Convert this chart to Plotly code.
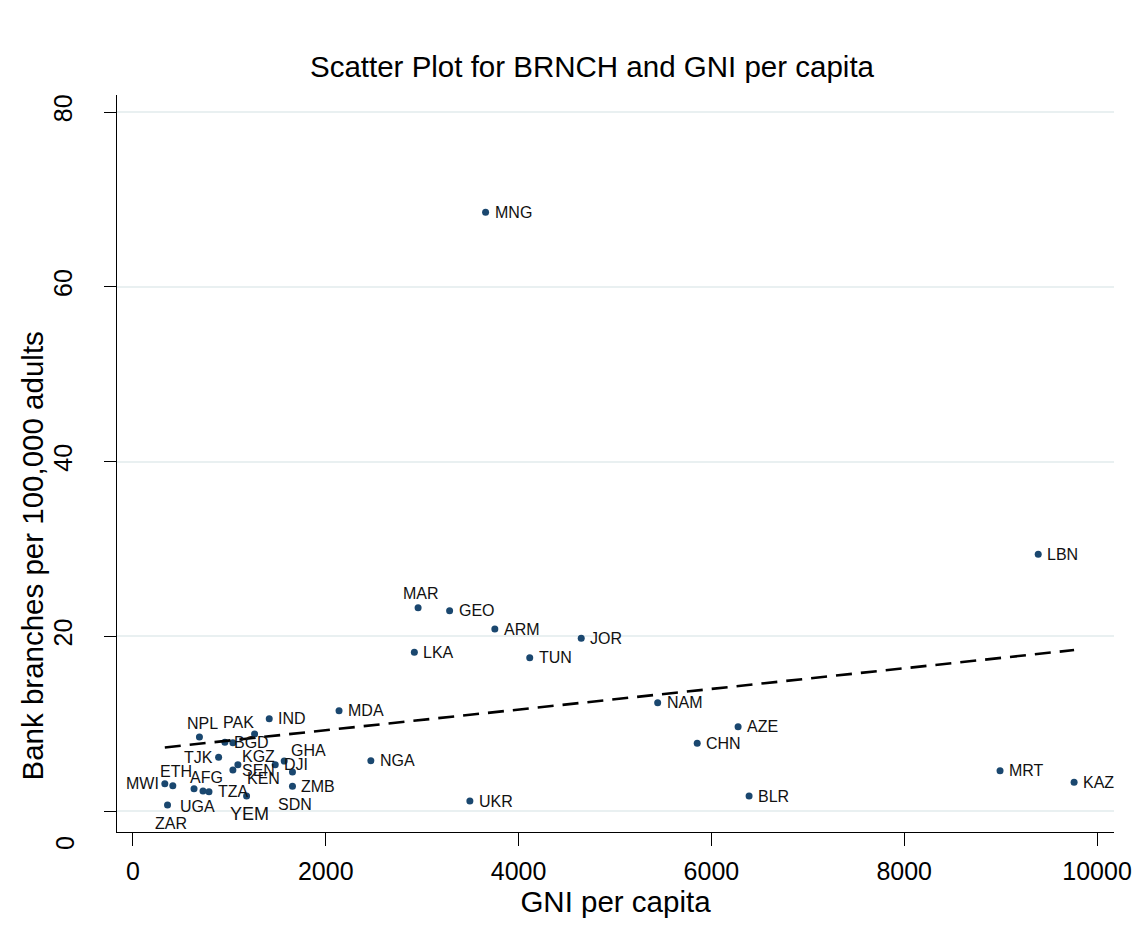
import numpy as np
import plotly.graph_objects as go

# ---------------- data ----------------
countries = ["MNG", "LBN", "MAR", "GEO", "ARM", "JOR", "LKA", "TUN", "NAM", "AZE",
             "CHN", "BLR", "MRT", "KAZ", "NGA", "UKR",
             "NPL", "PAK", "IND", "MDA", "BGD", "KGZ", "TJK", "KEN", "SEN", "DJI",
             "GHA", "ZMB", "SDN", "MWI", "ETH", "UGA", "AFG", "TZA", "YEM", "ZAR"]
gni_per_capita = [3658, 9390, 2958, 3285, 3754, 4650, 2919, 4116, 5443, 6277,
                  5853, 6391, 8994, 9762, 2468, 3495,
                  690, 1262, 1414, 2138, 954, 1037, 889, 1089, 1037, 1476,
                  1569, 1655, 1655, 331, 414, 634, 727, 789, 1179, 359]
branches = [68.52, 29.38, 23.27, 22.92, 20.83, 19.77, 18.16, 17.55, 12.39, 9.65,
            7.75, 1.72, 4.61, 3.28, 5.76, 1.14,
            8.47, 8.81, 10.56, 11.48, 7.86, 7.82, 6.15, 5.30, 4.69, 5.30,
            5.72, 4.46, 2.83, 3.12, 2.90, 2.55, 2.29, 2.21, 1.72, 0.69]

x_ticks = [0, 2000, 4000, 6000, 8000, 10000]
y_ticks = [0, 20, 40, 60, 80]

title_text = "Scatter Plot for BRNCH and GNI per capita"
x_title = "GNI per capita"
y_title = "Bank branches per 100,000 adults"

# ---------------- marker-label placement (clock positions, as in Stata) ----------------
label_clock = {"MAR": 12, "NPL": 12, "ETH": 12, "AFG": 12,
               "PAK": 11, "GHA": 1,
               "KGZ": 4, "KEN": 4, "ZMB": 4,
               "TJK": 9, "MWI": 9,
               "UGA": 6, "ZAR": 6, "SDN": 6, "YEM": 6}
clock_style = {
    3: dict(xanchor="left", yanchor="middle", xshift=7, yshift=0),
    9: dict(xanchor="right", yanchor="middle", xshift=-4, yshift=0),
    12: dict(xanchor="center", yanchor="middle", xshift=3, yshift=14),
    6: dict(xanchor="center", yanchor="middle", xshift=3, yshift=-18),
    4: dict(xanchor="left", yanchor="middle", xshift=7, yshift=-14),
    11: dict(xanchor="right", yanchor="middle", xshift=1, yshift=12),
    1: dict(xanchor="left", yanchor="middle", xshift=5, yshift=11),
}
big_labels = {"YEM": 18}

NAVY = "#1a476f"
FONT = "Liberation Sans, Arial, sans-serif"

# ---------------- linear fit (Stata lfit) ----------------
gx = np.array(gni_per_capita, dtype=float)
gy = np.array(branches, dtype=float)
slope, intercept = np.polyfit(gx, gy, 1)
fit_x = np.array([gx.min(), gx.max()])
fit_y = intercept + slope * fit_x

fig = go.Figure()
fig.add_trace(go.Scatter(
    x=gni_per_capita, y=branches, mode="markers",
    marker=dict(color=NAVY, size=7, line=dict(width=0)),
    showlegend=False, hoverinfo="text", text=countries,
))
fig.add_trace(go.Scatter(
    x=fit_x, y=fit_y, mode="lines",
    line=dict(color="black", width=2.6, dash="16px,9px"),
    showlegend=False, hoverinfo="skip",
))

annotations = []
for name, xv, yv in zip(countries, gni_per_capita, branches):
    style = clock_style[label_clock.get(name, 3)]
    annotations.append(dict(
        x=xv, y=yv, xref="x", yref="y", text=name, showarrow=False,
        font=dict(family=FONT, size=big_labels.get(name, 16), color="#111111"),
        **style,
    ))

# y-axis tick label "0" sits lower than its tick in the reference
annotations.append(dict(
    x=0, y=y_ticks[0], xref="paper", yref="y", xanchor="center", yanchor="middle",
    text=str(y_ticks[0]), textangle=-90, showarrow=False, xshift=-52, yshift=-32,
    font=dict(family=FONT, size=25, color="black"),
))
# y-axis title
annotations.append(dict(
    x=0, y=(y_ticks[0] + y_ticks[-1]) / 2, xref="paper", yref="y",
    xanchor="center", yanchor="middle", xshift=-84, yshift=-95,
    text=y_title, textangle=-90, showarrow=False,
    font=dict(family=FONT, size=29.5, color="black"),
))

fig.update_layout(
    width=1144, height=947,
    margin=dict(l=117, r=27, t=95, b=115),
    paper_bgcolor="white", plot_bgcolor="white",
    title=dict(text=title_text, x=592 / 1144, xanchor="center",
               y=1 - 67 / 947, yanchor="middle",
               font=dict(family=FONT, size=29.5, color="black")),
    annotations=annotations,
    xaxis=dict(
        range=[-165, 10176], tickmode="array", tickvals=x_ticks,
        ticktext=[str(v) for v in x_ticks],
        showgrid=False, zeroline=False,
        showline=True, linecolor="black", linewidth=1.3,
        ticks="outside", ticklen=13, tickwidth=1.3, tickcolor="black",
        tickfont=dict(family=FONT, size=25, color="black"),
        ticklabelstandoff=4,
        title=dict(text=x_title, standoff=4,
                   font=dict(family=FONT, size=29.5, color="black")),
    ),
    yaxis=dict(
        range=[-2.4, 81.95], tickmode="array", tickvals=y_ticks,
        ticktext=[""] + [str(v) for v in y_ticks[1:]],
        tickangle=-90,
        showgrid=True, gridcolor="#e9f0f1", gridwidth=2,
        zeroline=False,
        showline=True, linecolor="black", linewidth=1.3,
        ticks="outside", ticklen=12, tickwidth=1.3, tickcolor="black",
        tickfont=dict(family=FONT, size=25, color="black"),
        ticklabelstandoff=22,
    ),
)

fig.write_html("out.html")
